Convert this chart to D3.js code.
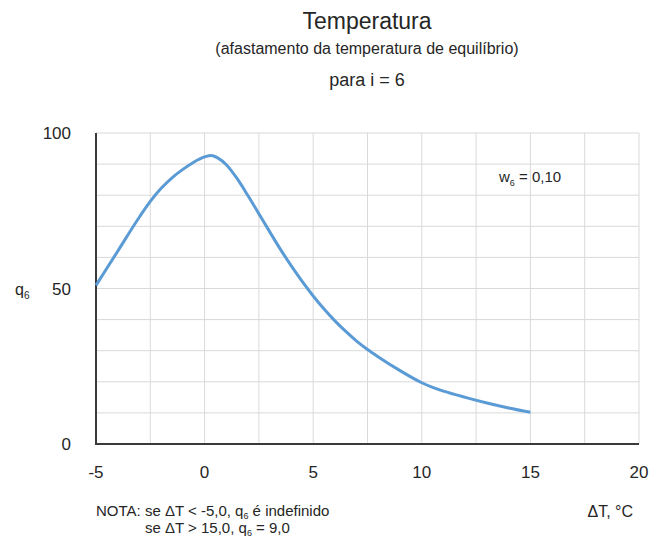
<!DOCTYPE html>
<html>
<head>
<meta charset="utf-8">
<script src="https://cdn.jsdelivr.net/npm/d3@7"></script>
<style>
  body { margin: 0; background: #fff; }
  svg text { font-family: "Liberation Sans", Arial, sans-serif; fill: #262626; }
</style>
</head>
<body>
<div id="chart"></div>
<script>
// curve q6 vs deltaT
const deltaT = [-5, -4, -3, -2.5, -2, -1.5, -1, -0.5, 0, 0.3, 0.6, 1, 1.5, 2, 2.5, 3, 3.5, 4, 4.5, 5, 5.5, 6, 6.5, 7, 7.5, 8, 9, 10, 10.5, 11, 12, 13, 14, 15];
const q6 = [51, 62, 73, 78, 82.2, 85.6, 88.3, 90.6, 92.3, 92.8, 92, 89.8, 85.3, 79.8, 74, 68.2, 62.5, 57.2, 52.2, 47.6, 43.4, 39.6, 36.2, 33.1, 30.4, 28, 23.6, 19.7, 18.2, 17, 15, 13.2, 11.6, 10.2];
const xTicks = [-5, 0, 5, 10, 15, 20];
const yTicks = [0, 50, 100];

const width = 664;
const height = 543;
const margin = {left: 96, right: 25, top: 133, bottom: 99};

const svg = d3.select("#chart")
    .append("svg")
    .attr("width", width)
    .attr("height", height);

const x = d3.scaleLinear().domain([-5, 20]).range([margin.left, width - margin.right]);
const y = d3.scaleLinear().domain([0, 100]).range([height - margin.bottom, margin.top]);

// grid
svg.append("g")
    .selectAll("line")
    .data(d3.range(-2.5, 20.01, 2.5))
    .enter()
    .append("line")
    .attr("x1", d => x(d)).attr("x2", d => x(d))
    .attr("y1", y(0)).attr("y2", y(100))
    .attr("stroke", "#d9d9d9").attr("stroke-width", 1);

svg.append("g")
    .selectAll("line")
    .data(d3.range(10, 100.01, 10))
    .enter()
    .append("line")
    .attr("x1", x(-5)).attr("x2", x(20))
    .attr("y1", d => y(d)).attr("y2", d => y(d))
    .attr("stroke", "#d9d9d9").attr("stroke-width", 1);

// axes
svg.append("line")
    .attr("x1", x(-5)).attr("x2", x(-5))
    .attr("y1", y(0) + 1).attr("y2", y(100))
    .attr("stroke", "#3a3a3a").attr("stroke-width", 2);
svg.append("line")
    .attr("x1", x(-5) - 1).attr("x2", x(20))
    .attr("y1", y(0)).attr("y2", y(0))
    .attr("stroke", "#3a3a3a").attr("stroke-width", 2);

// tick labels
svg.append("g")
    .selectAll("text")
    .data(xTicks)
    .enter()
    .append("text")
    .attr("x", d => x(d))
    .attr("y", 478)
    .attr("text-anchor", "middle")
    .style("font-size", "17px")
    .text(d => d);

svg.append("g")
    .selectAll("text")
    .data(yTicks)
    .enter()
    .append("text")
    .attr("x", 71)
    .attr("y", d => y(d) + 6)
    .attr("text-anchor", "end")
    .style("font-size", "17px")
    .text(d => d);

// curve
const line = d3.line()
    .x(d => x(d[0]))
    .y(d => y(d[1]))
    .curve(d3.curveMonotoneX);

svg.append("path")
    .datum(deltaT.map((d, i) => [d, q6[i]]))
    .attr("fill", "none")
    .attr("stroke", "#5b9bd5")
    .attr("stroke-width", 3)
    .attr("stroke-linejoin", "round")
    .attr("d", line);

// titles
const cx = 367;
svg.append("text").attr("x", cx).attr("y", 29).attr("text-anchor", "middle")
    .style("font-size", "23px").text("Temperatura");
svg.append("text").attr("x", cx).attr("y", 54).attr("text-anchor", "middle")
    .style("font-size", "16px").text("(afastamento da temperatura de equilíbrio)");
svg.append("text").attr("x", cx).attr("y", 86).attr("text-anchor", "middle")
    .style("font-size", "18px").text("para i = 6");

// axis labels
const qLab = svg.append("text").attr("x", 15).attr("y", 295).style("font-size", "16px");
qLab.append("tspan").text("q");
qLab.append("tspan").attr("dy", 4).style("font-size", "10px").text("6");

svg.append("text").attr("x", 633).attr("y", 517).attr("text-anchor", "end")
    .style("font-size", "16px").text("ΔT, °C");

// w6 note
const wLab = svg.append("text").attr("x", 499).attr("y", 182).style("font-size", "15px");
wLab.append("tspan").text("w");
wLab.append("tspan").attr("dy", 4).style("font-size", "9px").text("6");
wLab.append("tspan").attr("dy", -4).text(" = 0,10");

// footnote
const n1 = svg.append("text").attr("x", 96).attr("y", 516).style("font-size", "15px");
n1.append("tspan").text("NOTA: se ΔT < -5,0, q");
n1.append("tspan").attr("dy", 3).style("font-size", "9px").text("6");
n1.append("tspan").attr("dy", -3).text(" é indefinido");

const n2 = svg.append("text").attr("x", 145).attr("y", 533).style("font-size", "15px");
n2.append("tspan").text("se ΔT > 15,0, q");
n2.append("tspan").attr("dy", 3).style("font-size", "9px").text("6");
n2.append("tspan").attr("dy", -3).text(" = 9,0");
</script>
</body>
</html>
